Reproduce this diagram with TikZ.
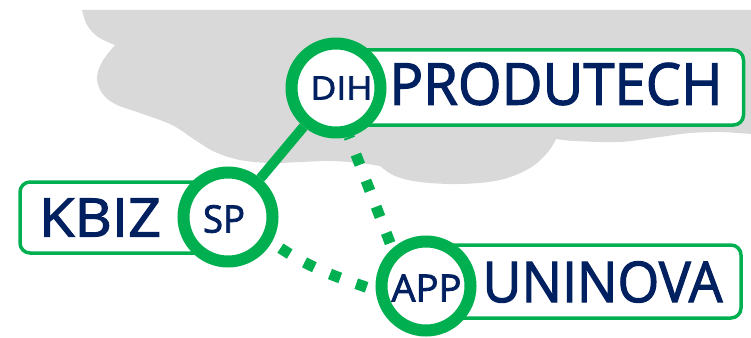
\documentclass[tikz,border=0pt]{standalone}
\usepackage{fontspec}
\setmainfont{Open Sans}
\newfontfamily\lblfont{Open Sans}[FakeBold=2]
\usepackage{graphicx}
\definecolor{kgreen}{RGB}{0,176,80}
\definecolor{knavy}{RGB}{0,32,96}
\definecolor{kcloud}{RGB}{217,217,217}
\pgfdeclarelayer{back}
\pgfdeclarelayer{links}
\pgfsetlayers{back,links,main}
\begin{document}
\begin{tikzpicture}[x=1pt,y=-1pt,
  ring/.style={circle, draw=kgreen, line width=12pt, fill=white, minimum size=89pt, inner sep=0pt},
  namebox/.style={draw=kgreen, line width=3.5pt, fill=white, rounded corners=10pt, inner sep=0pt},
  lbl/.style={inner sep=0pt, text=knavy, anchor=center, font=\lblfont},
  link/.style={draw=kgreen, line width=10pt},
  dotlink/.style={draw=kgreen, line width=11pt, dash pattern=on 11pt off 17pt}]
\useasboundingbox (0,0) rectangle (751,337);

\begin{pgfonlayer}{back}
\fill[kcloud] (82,10) -- (751,10) -- (751,134)
  -- plot[smooth, tension=0.55] coordinates {(751,134) (720,132) (690,133) (660,137) (620,142) (575,141) (556,139)}
  -- plot[smooth, tension=0.6] coordinates {(556,139) (548,152) (530,168) (500,180) (460,184) (420,182) (395,176) (380,166)}
  -- plot[smooth, tension=0.6] coordinates {(380,166) (360,163) (330,161) (300,162) (270,163) (240,160) (215,152) (195,140) (172,125) (140,113) (115,104) (102,93) (97,78) (102,62) (115,45)}
  -- plot[smooth, tension=0.6] coordinates {(115,45) (98,37) (87,25) (82,10)}
  -- cycle;
\end{pgfonlayer}

% name boxes
\node[namebox, minimum width=423pt, minimum height=75pt] (pbox) at (532,87.5) {};
\node[namebox, minimum width=210pt, minimum height=71pt] (kbox) at (125,217.5) {};
\node[namebox, minimum width=321pt, minimum height=73pt] (ubox) at (580.5,281.5) {};

% circles
\node[ring] (dih) at (336,88) {};
\node[ring] (sp) at (228,217) {};
\node[ring] (app) at (426,286) {};

% connectors
\begin{pgfonlayer}{links}
\draw[link] (sp) -- (dih);
\draw[dotlink, dash phase=9pt] (dih.-75) -- (app.132);
\draw[dotlink, dash phase=17.5pt] (sp.-30) to[out=-35, in=161] (app.185);
\end{pgfonlayer}

% labels
\node[lbl] (tdih) at (341.5,88) {\resizebox{62pt}{23pt}{DIH}};
\node[lbl] (tprod) at (556,84) {\resizebox{333pt}{41.9pt}{PRODUTECH}};
\node[lbl] (tkbiz) at (100,217.5) {\resizebox{122pt}{38pt}{KBIZ}};
\node[lbl] (tsp) at (224,219) {\resizebox{42pt}{27.5pt}{SP}};
\node[lbl] (tapp) at (426.5,288) {\resizebox{70pt}{27pt}{APP}};
\node[lbl] (tuni) at (602.5,282) {\resizebox{240pt}{40.8pt}{UNINOVA}};
\end{tikzpicture}
\end{document}
